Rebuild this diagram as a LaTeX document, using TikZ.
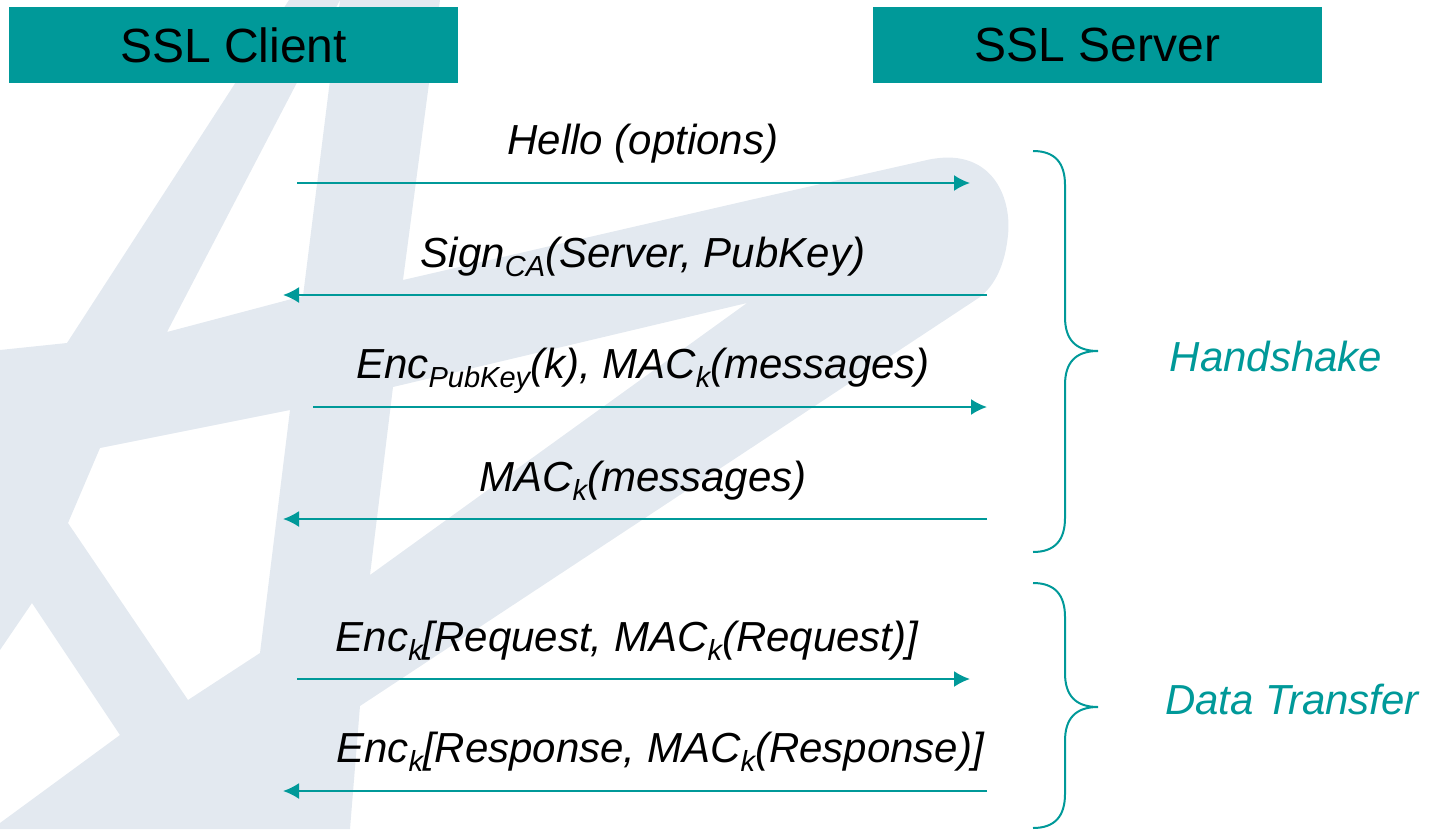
\documentclass[tikz,border=0pt]{standalone}
\usepackage{fontspec}
\setmainfont{Liberation Sans}
\usetikzlibrary{arrows.meta}

\definecolor{sslteal}{RGB}{0,153,153}
\definecolor{wmark}{RGB}{227,233,240}

\tikzset{
  header/.style    = {shape=rectangle, fill=sslteal, inner sep=0pt,
                      minimum width=224.5pt, minimum height=38pt,
                      font=\fontsize{24}{28}\selectfont},
  msg/.style       = {draw=sslteal, line width=1pt, -{Latex[length=8pt,width=8pt]}},
  msgtext/.style   = {anchor=base, inner sep=0pt, font=\fontsize{21}{25}\selectfont\itshape},
  phasetext/.style = {msgtext, text=sslteal},
  phase/.style     = {draw=sslteal, line width=1pt}
}

\newcommand{\sub}[1]{\raisebox{-4.5pt}{\fontsize{14.5}{16}\selectfont #1}}

% curly brace: top, tip, bottom
\newcommand{\phasebrace}[3]{%
  \draw[phase] (1033,#1) .. controls (1055,#1) and (1065,#1+12) .. (1065,#1+34)
    -- (1065,#2-34) .. controls (1065,#2-12) and (1075,#2) .. (1098,#2)
    .. controls (1075,#2) and (1065,#2+12) .. (1065,#2+34)
    -- (1065,#3-34) .. controls (1065,#3-12) and (1055,#3) .. (1033,#3);}

\begin{document}
\begin{tikzpicture}[x=0.5pt, y=-0.5pt]
\useasboundingbox (0,0) rectangle (1433,829);

% watermark
\fill[wmark, even odd rule]
  (289,0) -- (440,0) -- (403,280) -- (750,200) -- (927,160)
  .. controls (990,146) and (1012,195) .. (1008,235)
  .. controls (1005,265) and (995,285) .. (980,297)
  -- (360,706) -- (350,829) -- (0,829) -- (0,823) -- (120,735) -- (32,603)
  -- (0,650) -- (0,350) -- (67,343) -- cycle
  (340,0) -- (303,296) -- (167,332) -- cycle
  (100,448) -- (290,410) -- (260,653) -- (188,700) -- (68,523) -- cycle
  (747,303) -- (393,387) -- (370,575) -- cycle;

\node[header] (client) at (233.5,45) {SSL Client};
\node[header] (server) at (1097.5,45) {SSL Server};

\coordinate (c1) at (297,183);  \coordinate (s1) at (970,183);
\coordinate (c2) at (283,295);  \coordinate (s2) at (987,295);
\coordinate (c3) at (313,407);  \coordinate (s3) at (987,407);
\coordinate (c4) at (283,519);  \coordinate (s4) at (987,519);
\coordinate (c5) at (297,679);  \coordinate (s5) at (970,679);
\coordinate (c6) at (283,791);  \coordinate (s6) at (987,791);

\draw[msg] (c1) -- (s1);
\draw[msg] (s2) -- (c2);
\draw[msg] (c3) -- (s3);
\draw[msg] (s4) -- (c4);
\draw[msg] (c5) -- (s5);
\draw[msg] (s6) -- (c6);

\node[msgtext] (hello) at (643,154) {Hello (options)};
\node[msgtext] (sign) at (643,267) {Sign\sub{CA}(Server, PubKey)};
\node[msgtext] (enc) at (643,378) {Enc\sub{PubKey}(k), MAC\sub{k}(messages)};
\node[msgtext] (mac) at (643,491) {MAC\sub{k}(messages)};
\node[msgtext] (request) at (627,651) {Enc\sub{k}[Request, MAC\sub{k}(Request)]};
\node[msgtext] (response) at (660,762) {Enc\sub{k}[Response, MAC\sub{k}(Response)]};

\phasebrace{151}{351}{552}
\phasebrace{583}{707}{828}

\node[phasetext] (handshake) at (1276,371) {Handshake};
\node[phasetext] (transfer) at (1292,714) {Data Transfer};
\end{tikzpicture}
\end{document}
